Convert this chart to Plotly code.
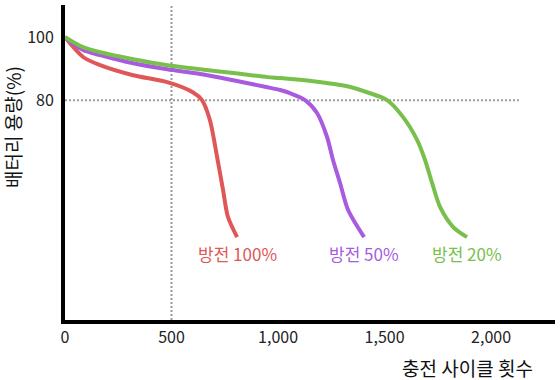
import plotly.graph_objects as go

# Charge cycles (x) and battery capacity % (y)
red_x = [0, 85, 165, 320, 480, 600, 643, 680, 714, 742, 765, 808]
red_y = [100, 93.7, 91.1, 87.9, 85.7, 82.5, 80, 73.7, 61.9, 51.4, 42.9, 36.5]

purple_x = [0, 85, 165, 320, 480, 635, 790, 950, 1010, 1056, 1127, 1183, 1230, 1258, 1291, 1329, 1404]
purple_y = [100, 95.9, 94.3, 91.7, 89.8, 88.3, 86.3, 84.1, 83.2, 82.2, 80, 75.9, 68.3, 61, 53.7, 45.1, 36.5]

green_x = [0, 85, 165, 320, 480, 635, 790, 950, 1010, 1165, 1325, 1418, 1512, 1587, 1653, 1690, 1723, 1761, 1822, 1887]
green_y = [100, 96.8, 95.2, 93, 91.1, 89.8, 88.6, 87.3, 87, 86, 84.4, 82.5, 80, 74.6, 67.3, 61, 53.7, 46, 39.7, 36.5]

series_names = ["방전 100%", "방전 50%", "방전 20%"]
series_colors = ["#E05757", "#A95BDF", "#78C04B"]

x_ticks = [0, 500, 1000, 1500, 2000]
x_ticktext = ["0", "500", "1,000", "1,500", "2,000"]
y_ticks = [80, 100]
y_ticktext = ["80", "100"]

FONT = "Noto Sans CJK KR"

fig = go.Figure()
for xs, ys, name, col in zip([red_x, purple_x, green_x], [red_y, purple_y, green_y], series_names, series_colors):
    fig.add_trace(go.Scatter(x=xs, y=ys, mode="lines", name=name,
                             line=dict(color=col, width=4, shape="spline", smoothing=0.8),
                             hoverinfo="skip"))
    fig.add_annotation(x=xs[-1], y=31.2, text=name, showarrow=False,
                       font=dict(family=FONT, size=17, color=col),
                       xanchor="center", yanchor="middle")

# dotted reference lines
fig.add_shape(type="line", x0=500, x1=500, y0=10.2, y1=110.2,
              line=dict(color="#9a9a9a", width=2, dash="2px,2px"), layer="below")
fig.add_shape(type="line", x0=0, x1=2130, y0=80, y1=80,
              line=dict(color="#9a9a9a", width=2, dash="2px,2px"), layer="below")

fig.update_layout(
    width=560, height=380,
    margin=dict(l=65, r=5, t=5, b=60),
    plot_bgcolor="white", paper_bgcolor="white",
    showlegend=False,
    font=dict(family=FONT, size=16, color="#222222"),
    xaxis=dict(range=[0, 2300], showgrid=False, zeroline=False,
               showline=True, linecolor="black", linewidth=4,
               tickvals=x_ticks, ticktext=x_ticktext, ticks="",
               tickfont=dict(family=FONT, size=16, color="#222222")),
    yaxis=dict(range=[10.2, 110.2], showgrid=False, zeroline=False,
               showline=True, linecolor="black", linewidth=4,
               tickvals=y_ticks, ticktext=y_ticktext, ticks="",
               ticklabelstandoff=4,
               tickfont=dict(family=FONT, size=16, color="#222222")),
)

fig.add_annotation(xref="paper", yref="paper", x=(467 - 65) / 490, y=-(367 - 320) / 315,
                   text="충전 사이클 횟수", showarrow=False, borderpad=0,
                   font=dict(family=FONT, size=19, color="#111111"),
                   xanchor="center", yanchor="middle")
fig.add_annotation(xref="paper", yref="paper", x=-(65 - 13) / 490, y=(320 - 127) / 315,
                   text="배터리 용량(%)", showarrow=False, textangle=-90, borderpad=0,
                   font=dict(family=FONT, size=19, color="#111111"),
                   xanchor="center", yanchor="middle")

fig.write_html("out.html", config={"displayModeBar": False},
               post_script="document.body.style.margin='0';document.body.style.overflow='hidden';")
